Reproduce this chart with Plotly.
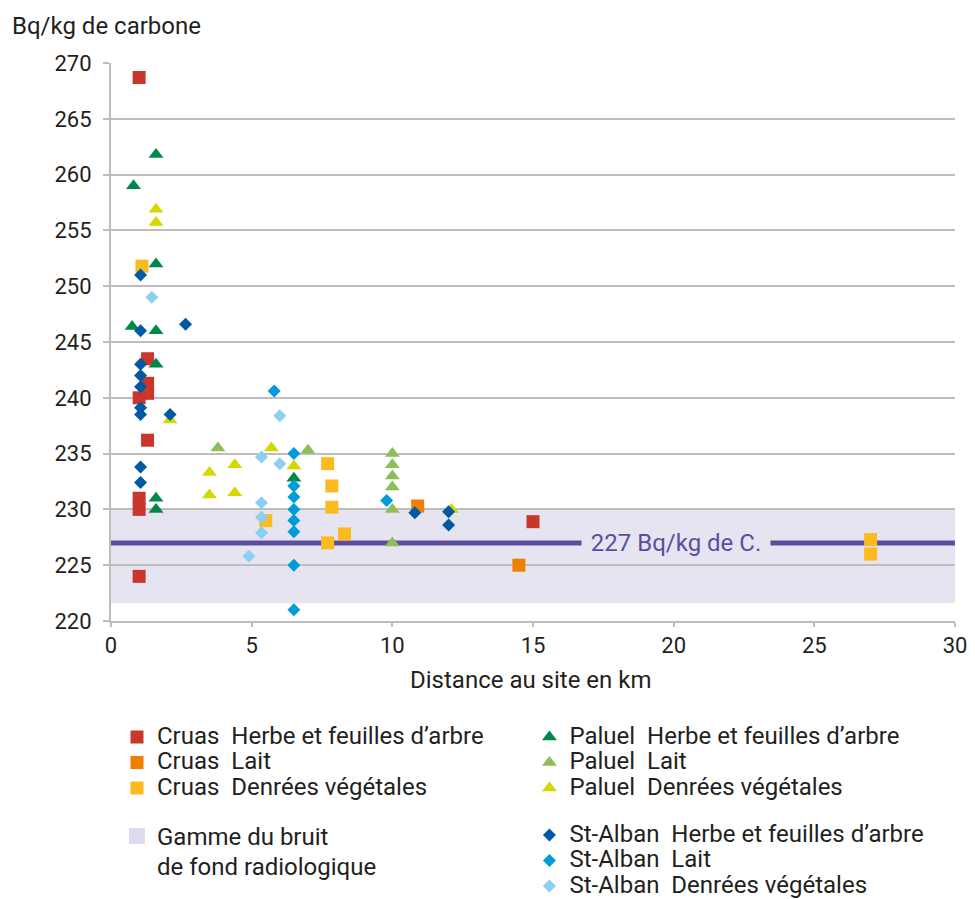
import plotly.graph_objects as go

# ---------------- data ----------------
cruas_herbe_x = [1.0, 1.3, 1.3, 1.3, 1.0, 1.3, 1.0, 1.0, 1.0, 15.0]
cruas_herbe_y = [268.7, 243.5, 241.3, 240.4, 240.0, 236.2, 231.0, 230.0, 224.0, 228.9]
cruas_lait_x = [10.9, 14.5]
cruas_lait_y = [230.3, 225.0]
cruas_denrees_x = [1.1, 5.5, 7.7, 7.85, 7.85, 7.7, 8.3, 27.0, 27.0]
cruas_denrees_y = [251.8, 229.0, 234.1, 232.1, 230.2, 227.0, 227.8, 227.3, 226.0]

paluel_herbe_x = [1.6, 0.8, 1.6, 0.75, 1.6, 1.6, 1.6, 1.6, 6.5]
paluel_herbe_y = [261.8, 259.0, 252.0, 246.4, 246.0, 243.0, 231.0, 230.0, 232.8]
paluel_lait_x = [3.8, 7.0, 10.0, 10.0, 10.0, 10.0, 10.0, 10.0]
paluel_lait_y = [235.5, 235.3, 235.0, 234.0, 233.0, 232.0, 230.0, 227.0]
paluel_denrees_x = [1.6, 1.6, 2.1, 3.5, 3.5, 4.4, 4.4, 5.7, 6.5, 12.1]
paluel_denrees_y = [256.9, 255.7, 238.0, 233.3, 231.3, 234.0, 231.5, 235.5, 233.9, 230.0]

stalban_herbe_x = [1.05, 1.05, 2.65, 1.05, 1.05, 1.05, 1.05, 1.05, 2.1, 1.05, 1.05, 10.8, 12.0, 12.0]
stalban_herbe_y = [251.0, 246.0, 246.6, 243.0, 242.0, 241.0, 239.1, 238.5, 238.5, 233.8, 232.4, 229.7, 229.8, 228.6]
stalban_lait_x = [5.8, 6.5, 6.5, 6.5, 6.5, 6.5, 6.5, 6.5, 6.5, 9.8]
stalban_lait_y = [240.6, 235.0, 232.1, 231.1, 230.0, 229.0, 228.0, 225.0, 221.0, 230.8]
stalban_denrees_x = [1.45, 6.0, 5.35, 6.0, 5.35, 5.35, 5.35, 4.9]
stalban_denrees_y = [249.0, 238.4, 234.7, 234.1, 230.6, 229.3, 227.9, 225.8]

band_low = 221.6
band_high = 230.0
ref_value = 227
ref_label = "227 Bq/kg de C."
ref_label_x = 20.1

x_range = [0, 30]
y_range = [220, 270]
x_ticks = [0, 5, 10, 15, 20, 25, 30]
y_ticks = [220, 225, 230, 235, 240, 245, 250, 255, 260, 265, 270]

FONT = "Roboto, 'Noto Sans', sans-serif"
TXT = "#231F20"
GRID = "#BDBDBD"
BAND = "#E6E4F1"
PURPLE = "#5D4E9D"

series = [
    ("Cruas", "Herbe et feuilles d\u2019arbre", cruas_herbe_x, cruas_herbe_y, "#C9372C", "square", 13, "legend"),
    ("Cruas", "Lait", cruas_lait_x, cruas_lait_y, "#EE7F00", "square", 13, "legend"),
    ("Cruas", "Denrées végétales", cruas_denrees_x, cruas_denrees_y, "#FBBA20", "square", 13, "legend"),
    ("Paluel", "Herbe et feuilles d\u2019arbre", paluel_herbe_x, paluel_herbe_y, "#00884A", "triangle-up", 13, "legend2"),
    ("Paluel", "Lait", paluel_lait_x, paluel_lait_y, "#8CBF58", "triangle-up", 13, "legend2"),
    ("Paluel", "Denrées végétales", paluel_denrees_x, paluel_denrees_y, "#D5D800", "triangle-up", 13, "legend2"),
    ("St-Alban", "Herbe et feuilles d\u2019arbre", stalban_herbe_x, stalban_herbe_y, "#0059A5", "diamond", 10, "legend2"),
    ("St-Alban", "Lait", stalban_lait_x, stalban_lait_y, "#009BDA", "diamond", 10, "legend2"),
    ("St-Alban", "Denrées végétales", stalban_denrees_x, stalban_denrees_y, "#8BCFF2", "diamond", 10, "legend2"),
]

fig = go.Figure()

for site, cat, xs, ys, col, sym, sz, leg in series:
    fig.add_trace(go.Scatter(
        x=xs, y=ys, mode="markers",
        name=f"<span style='font-size:24px'>{site}\u00a0\u00a0{cat}</span>",
        legendgroup=site, legend=leg,
        marker=dict(symbol=sym, size=sz, color=col, line=dict(width=0)),
        hoverinfo="x+y",
    ))

# legend entry for the background band
fig.add_trace(go.Scatter(
    x=[None], y=[None], mode="markers",
    name="<span style='font-size:24px'>Gamme du bruit<br>de fond radiologique</span>",
    legend="legend3",
    marker=dict(symbol="square", size=16, color="#DCDAEC"),
))

# background band and reference line
fig.add_shape(type="rect", xref="x", yref="y", x0=x_range[0], x1=x_range[1],
              y0=band_low, y1=band_high, fillcolor=BAND, line=dict(width=0), layer="below")
fig.add_shape(type="line", xref="x", yref="y", x0=x_range[0], x1=x_range[1],
              y0=ref_value, y1=ref_value, line=dict(color=PURPLE, width=5), layer="between")
fig.add_annotation(x=ref_label_x, y=ref_value, xref="x", yref="y", text=ref_label,
                   showarrow=False, font=dict(family=FONT, size=24, color=PURPLE),
                   bgcolor=BAND, width=188, borderpad=0)

# titles
fig.add_annotation(x=-0.1197, y=1.066, xref="paper", yref="paper", text="Bq/kg de carbone",
                   xanchor="left", yanchor="middle", showarrow=False,
                   font=dict(family=FONT, size=24, color=TXT))
fig.add_annotation(x=0.4976, y=-0.1057, xref="paper", yref="paper", text="Distance au site en km",
                   xanchor="center", yanchor="middle", showarrow=False,
                   font=dict(family=FONT, size=24, color=TXT))

axis_common = dict(showline=True, linecolor=GRID, linewidth=2, ticks="outside",
                   tickwidth=2, tickcolor=GRID, zeroline=False, automargin=False,
                   tickfont=dict(family=FONT, size=22, color=TXT))

fig.update_xaxes(range=x_range, tickvals=x_ticks, showgrid=False, ticklen=4,
                 ticklabelstandoff=0, **axis_common)
fig.update_yaxes(range=y_range, tickvals=y_ticks, showgrid=True, gridcolor=GRID, gridwidth=2,
                 ticklen=6, ticklabelstandoff=7, **axis_common)

leg_common = dict(font=dict(family=FONT, size=17.3, color=TXT), bgcolor="rgba(0,0,0,0)",
                  itemwidth=30, itemsizing="trace", xanchor="left", yanchor="top",
                  orientation="v", traceorder="grouped", itemclick=False, itemdoubleclick=False)

# the page adds an 8px body margin, so the figure is sized/margined to compensate
fig.update_layout(
    width=967, height=891,
    margin=dict(l=103, r=20, t=55, b=278, autoexpand=False),
    paper_bgcolor="white", plot_bgcolor="white",
    font=dict(family=FONT, color=TXT),
    showlegend=True,
    legend=dict(x=0.0071, y=-0.1761, tracegroupgap=0, **leg_common),
    legend2=dict(x=0.4958, y=-0.1761, tracegroupgap=21.5, **leg_common),
    legend3=dict(x=0.0071, y=-0.3468, valign="top", tracegroupgap=0,
                 **{**leg_common, "font": dict(family=FONT, size=23, color=TXT)}),
)

fig.write_html("out.html")
